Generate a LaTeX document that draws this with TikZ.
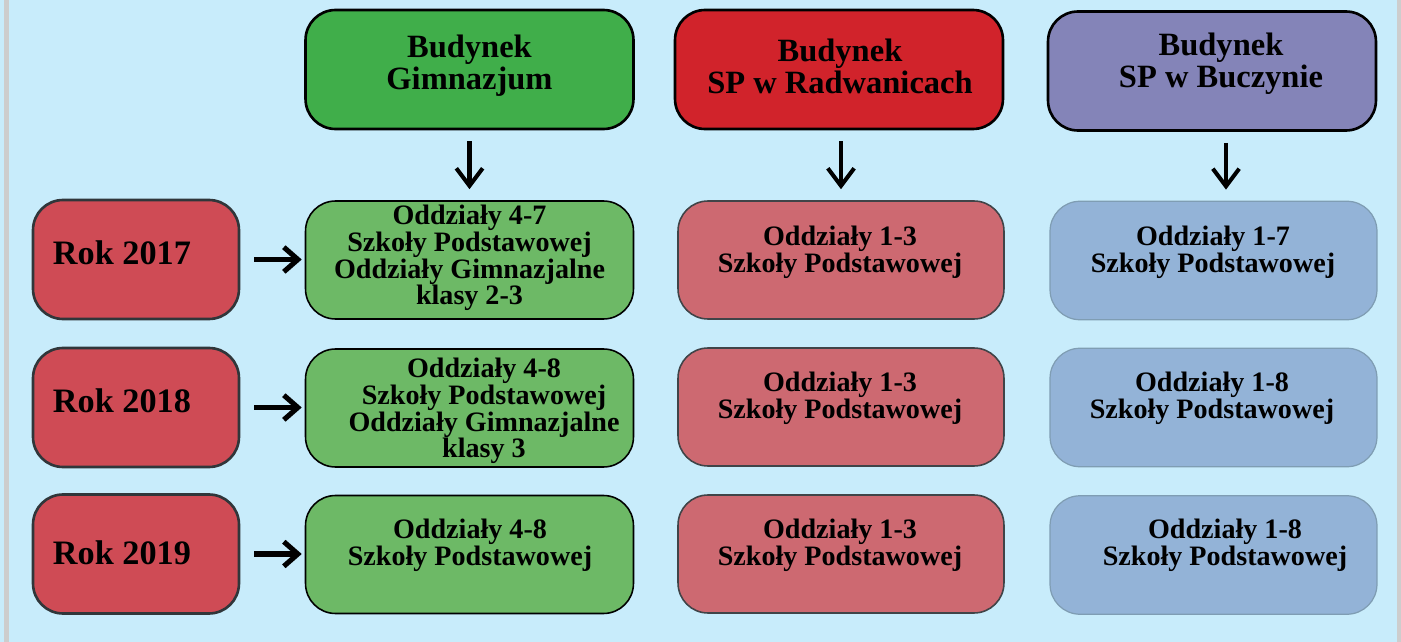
\documentclass[tikz,border=0pt]{standalone}
\usepackage{fontspec}
\setmainfont{Liberation Serif}
\usetikzlibrary{arrows.meta}
\definecolor{bg}{HTML}{C8ECFB}
\definecolor{band}{HTML}{CDCDCD}
\definecolor{hgreen}{HTML}{40AE4A}
\definecolor{hred}{HTML}{D1232B}
\definecolor{hpurple}{HTML}{8484B8}
\definecolor{rokred}{HTML}{CF4B55}
\definecolor{rowgreen}{HTML}{6DB966}
\definecolor{rowred}{HTML}{CD6971}
\definecolor{rowblue}{HTML}{93B3D7}
\definecolor{rokline}{HTML}{30363A}
\definecolor{redline}{HTML}{404448}
\definecolor{blueline}{HTML}{7F9DB3}
\tikzset{
  basebox/.style={rounded corners=0.6cm, inner sep=0pt},
  hbox/.style={basebox, draw=black, line width=1.5pt, minimum width=6.56cm, minimum height=2.38cm},
  rokbox/.style={basebox, draw=rokline, line width=1.5pt, fill=rokred, minimum width=4.12cm, minimum height=2.38cm},
  gbox/.style={basebox, draw=black, line width=0.9pt, fill=rowgreen, minimum width=6.56cm, minimum height=2.36cm},
  rbox/.style={basebox, draw=redline, line width=0.9pt, fill=rowred, minimum width=6.52cm, minimum height=2.36cm},
  bbox/.style={basebox, draw=blueline, line width=0.7pt, fill=rowblue, minimum width=6.54cm, minimum height=2.37cm},
  htxt/.style={align=center, inner sep=0pt, font=\fontsize{18.5}{18.3}\selectfont\bfseries},
  rtxt/.style={align=center, inner sep=0pt, font=\fontsize{16}{15.2}\selectfont\bfseries},
  roktxt/.style={inner sep=0pt, font=\fontsize{19.5}{20}\selectfont\bfseries},
  darr/.style={line width=2.3pt, -{Straight Barb[length=10pt,width=15pt]}, shorten <=0.22cm, shorten >=0.22cm},
  rarr/.style={line width=2.9pt, -{Straight Barb[length=8pt,width=14pt]}, shorten <=0.28cm, shorten >=0.06cm}
}
\begin{document}
\begin{tikzpicture}[x=0.02cm,y=-0.02cm]
\fill[bg] (0,0) rectangle (1401,642);
\fill[band] (4,0) rectangle (8.5,642);
\fill[band] (1396.5,0) rectangle (1401,642);
\useasboundingbox (0,0) rectangle (1401,642);

% headers
\node[hbox, fill=hgreen] (hG) at (469.5,69.5) {};
\node[hbox, fill=hred] (hR) at (839,69.5) {};
\node[hbox, fill=hpurple] (hB) at (1212,71) {};
\node[htxt] (thG) at (469.5,66) {Budynek\\Gimnazjum};
\node[htxt] (thR) at (840,66) {Budynek\\SP w Radwanicach};
\node[htxt] (thB) at (1221,64) {Budynek\\SP w Buczynie};

% year boxes
\node[rokbox] (k1) at (136,259.5) {};
\node[rokbox] (k2) at (136,407.5) {};
\node[rokbox] (k3) at (136,554) {};
\node[roktxt] (tk1) at (122,253) {Rok 2017};
\node[roktxt] (tk2) at (122,401) {Rok 2018};
\node[roktxt] (tk3) at (122,553) {Rok 2019};

% green column
\node[gbox] (g1) at (469.5,260) {};
\node[gbox] (g2) at (469.5,408) {};
\node[gbox] (g3) at (469.5,554.5) {};
\node[rtxt] (tg1) at (469.5,258) {Oddziały 4-7\\Szkoły Podstawowej\\Oddziały Gimnazjalne\\klasy 2-3};
\node[rtxt] (tg2) at (484,411) {Oddziały 4-8\\Szkoły Podstawowej\\Oddziały Gimnazjalne\\klasy 3};
\node[rtxt] (tg3) at (470,545) {Oddziały 4-8\\Szkoły Podstawowej};

% red column
\node[rbox] (r1) at (841,260) {};
\node[rbox] (r2) at (841,407) {};
\node[rbox] (r3) at (841,554) {};
\node[rtxt] (tr1) at (840,252) {Oddziały 1-3\\Szkoły Podstawowej};
\node[rtxt] (tr2) at (840,398.5) {Oddziały 1-3\\Szkoły Podstawowej};
\node[rtxt] (tr3) at (840,545) {Oddziały 1-3\\Szkoły Podstawowej};

% blue column
\node[bbox] (b1) at (1213.5,260.5) {};
\node[bbox] (b2) at (1213.5,407.5) {};
\node[bbox] (b3) at (1213.5,555) {};
\node[rtxt] (tb1) at (1213,252) {Oddziały 1-7\\Szkoły Podstawowej};
\node[rtxt] (tb2) at (1212,398.5) {Oddziały 1-8\\Szkoły Podstawowej};
\node[rtxt] (tb3) at (1225,545) {Oddziały 1-8\\Szkoły Podstawowej};

% down arrows
\draw[darr] (hG.south) -- (hG.south |- g1.north);
\draw[darr] ([xshift=0.04cm]hR.south) -- ([xshift=0.04cm]hR.south |- r1.north);
\draw[darr] ([xshift=0.28cm]hB.south) -- ([xshift=0.28cm]hB.south |- b1.north);

% right arrows
\draw[rarr] (k1.east) -- (k1.east -| g1.west);
\draw[rarr] (k2.east) -- (k2.east -| g2.west);
\draw[rarr] (k3.east) -- (k3.east -| g3.west);
\end{tikzpicture}
\end{document}
